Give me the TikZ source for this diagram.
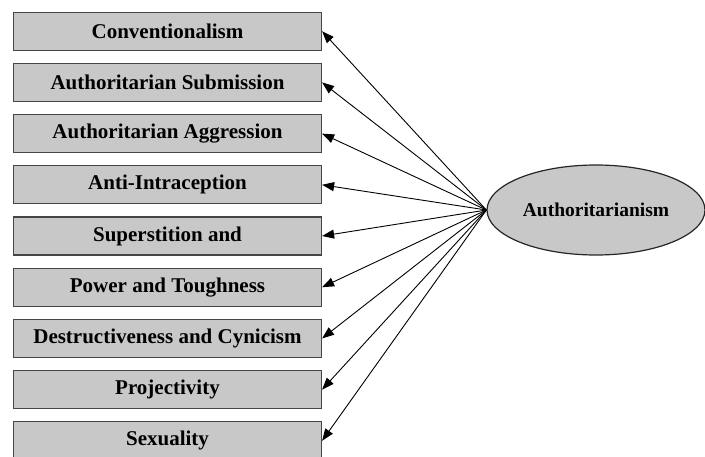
\documentclass[tikz,border=0pt]{standalone}
\usepackage{fontspec}
\setmainfont{Liberation Serif}
\usetikzlibrary{shapes.geometric,arrows.meta}
\definecolor{boxfill}{RGB}{200,200,200}
\definecolor{boxline}{RGB}{70,70,70}
\tikzset{
  factor/.style={draw=boxline, line width=1.2pt, fill=boxfill, minimum width=308pt, minimum height=38pt, inner sep=0pt, font=\fontsize{21}{23}\selectfont\bfseries},
  latent/.style={ellipse, draw=black!85, line width=1.2pt, fill=boxfill, minimum width=218pt, minimum height=90pt, inner sep=0pt, font=\fontsize{19.5}{22}\selectfont\bfseries},
  arr/.style={-{Triangle[length=12pt,width=9pt]}, line width=0.9pt, black}
}
\begin{document}
\begin{tikzpicture}[x=1pt,y=-1pt]
\useasboundingbox (0,0) rectangle (705,456);
\node[factor] (b1) at (167.5,31.2) {Conventionalism};
\node[factor] (b2) at (167.5,82.4) {Authoritarian Submission};
\node[factor] (b3) at (167.5,133.6) {Authoritarian Aggression};
\node[factor] (b4) at (167.5,184.8) {Anti-Intraception};
\node[factor] (b5) at (167.5,236.0) {Superstition and};
\node[factor] (b6) at (167.5,287.2) {Power and Toughness};
\node[factor] (b7) at (167.5,338.4) {Destructiveness and Cynicism};
\node[factor] (b8) at (167.5,389.6) {Projectivity};
\node[factor] (b9) at (167.5,440.8) {Sexuality};
\node[latent] (auth) at (596,210) {Authoritarianism};
\foreach \i in {1,...,9} {
  \draw[arr] (auth.west) -- (b\i.east);
}
\end{tikzpicture}
\end{document}
